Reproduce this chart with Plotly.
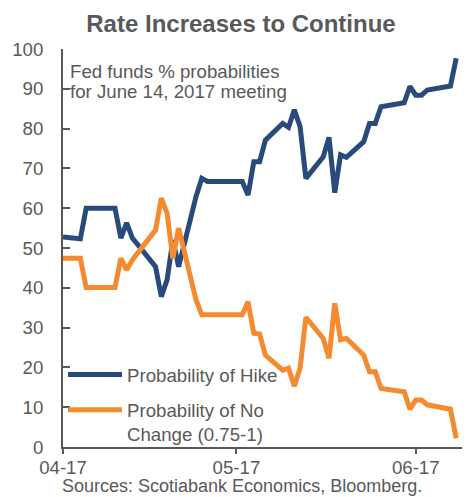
import plotly.graph_objects as go

# ---- data ----
dates = [
    "2017-04-03", "2017-04-06", "2017-04-07", "2017-04-12", "2017-04-13",
    "2017-04-14", "2017-04-15", "2017-04-19", "2017-04-20", "2017-04-21",
    "2017-04-22", "2017-04-23", "2017-04-26", "2017-04-27", "2017-04-28",
    "2017-05-04", "2017-05-05", "2017-05-06", "2017-05-07", "2017-05-08",
    "2017-05-11", "2017-05-12", "2017-05-13", "2017-05-14", "2017-05-15",
    "2017-05-18", "2017-05-19", "2017-05-20", "2017-05-21", "2017-05-22",
    "2017-05-25", "2017-05-26", "2017-05-27", "2017-05-28", "2017-06-01",
    "2017-06-02", "2017-06-03", "2017-06-04", "2017-06-05", "2017-06-09",
    "2017-06-10",
]
prob_hike = [
    52.8, 52.3, 60.0, 60.0, 52.5,
    56.3, 52.5, 45.3, 37.8, 42.0,
    52.0, 45.3, 62.9, 67.5, 66.7,
    66.7, 63.3, 71.7, 71.7, 77.1,
    81.3, 80.3, 84.7, 80.5, 67.5,
    72.9, 77.8, 63.9, 73.4, 72.8,
    76.7, 81.3, 81.3, 85.5, 86.5,
    90.6, 88.4, 88.4, 89.7, 90.7,
    97.7,
]
prob_no_change = [
    47.4, 47.4, 40.1, 40.1, 47.4,
    44.5, 47.0, 54.5, 62.5, 58.7,
    47.4, 55.0, 37.0, 33.2, 33.2,
    33.2, 36.5, 28.6, 28.4, 23.1,
    19.3, 19.8, 15.3, 19.8, 32.6,
    27.3, 22.3, 36.1, 26.9, 27.3,
    23.1, 18.9, 18.9, 14.7, 13.9,
    9.5, 11.8, 11.8, 10.6, 9.5,
    2.2,
]
x_tick_vals = ["2017-04-03", "2017-05-03", "2017-06-03"]
x_tick_text = ["04-17", "05-17", "06-17"]
y_tick_vals = [0, 10, 20, 30, 40, 50, 60, 70, 80, 90, 100]
x_range = ["2017-04-03", "2017-06-11"]

FONT = "Liberation Sans, Arial, sans-serif"
GREY = "#595959"
BLUE = "#284B7C"
ORANGE = "#F58B30"
FS = 18.67

fig = go.Figure()
fig.add_trace(go.Scatter(
    x=dates, y=prob_hike, mode="lines", name="Probability of Hike",
    legendgroup="hike",
    line=dict(color=BLUE, width=5),
))
fig.add_trace(go.Scatter(
    x=dates, y=prob_no_change, mode="lines",
    name="Probability of No<br>Change (0.75-1)",
    legendgroup="nochange",
    line=dict(color=ORANGE, width=5),
))

fig.update_layout(
    width=466, height=497,
    margin=dict(l=63, r=4, t=49, b=50),
    paper_bgcolor="white", plot_bgcolor="white",
    font=dict(family=FONT, size=FS, color=GREY),
    title=dict(
        text="<b>Rate Increases to Continue</b>",
        x=241 / 466, xref="container", xanchor="center",
        y=1 - 24 / 497, yref="container", yanchor="middle",
        font=dict(family=FONT, size=24, color=GREY),
    ),
    showlegend=True,
    legend=dict(
        x=0.0, y=0.229, xanchor="left", yanchor="top",
        bgcolor="rgba(0,0,0,0)", font=dict(size=FS, color=GREY),
        valign="top", itemwidth=54, tracegroupgap=8, traceorder="grouped",
    ),
    xaxis=dict(
        type="date", range=x_range, tickmode="array",
        tickvals=x_tick_vals, ticktext=x_tick_text,
        showgrid=False, zeroline=False,
        showline=True, linecolor=GREY, linewidth=2,
        ticks="outside", ticklen=5, tickcolor=GREY, tickwidth=1.5,
        tickfont=dict(size=FS, color=GREY), ticklabelstandoff=-2,
    ),
    yaxis=dict(
        range=[0, 100], tickmode="array", tickvals=y_tick_vals,
        showgrid=False, zeroline=False,
        showline=True, linecolor=GREY, linewidth=2,
        ticks="inside", ticklen=7, tickcolor=GREY, tickwidth=1.5,
        tickfont=dict(size=FS, color=GREY), ticklabelstandoff=14,
    ),
)

fig.add_annotation(
    text="Fed funds % probabilities", xref="paper", yref="paper",
    x=(68 - 63) / 399, y=(447 - 72) / 398, xanchor="left", yanchor="middle",
    showarrow=False, font=dict(size=FS, color=GREY),
)
fig.add_annotation(
    text="for June 14, 2017 meeting", xref="paper", yref="paper",
    x=(68 - 63) / 399, y=(447 - 92) / 398, xanchor="left", yanchor="middle",
    showarrow=False, font=dict(size=FS, color=GREY),
)
fig.add_annotation(
    text="Sources: Scotiabank Economics, Bloomberg.", xref="paper", yref="paper",
    x=(242 - 63) / 399, y=(447 - 497) / 398, xanchor="center", yanchor="bottom",
    showarrow=False, font=dict(size=18, color=GREY), borderpad=0,
)

fig.write_html("out.html")
